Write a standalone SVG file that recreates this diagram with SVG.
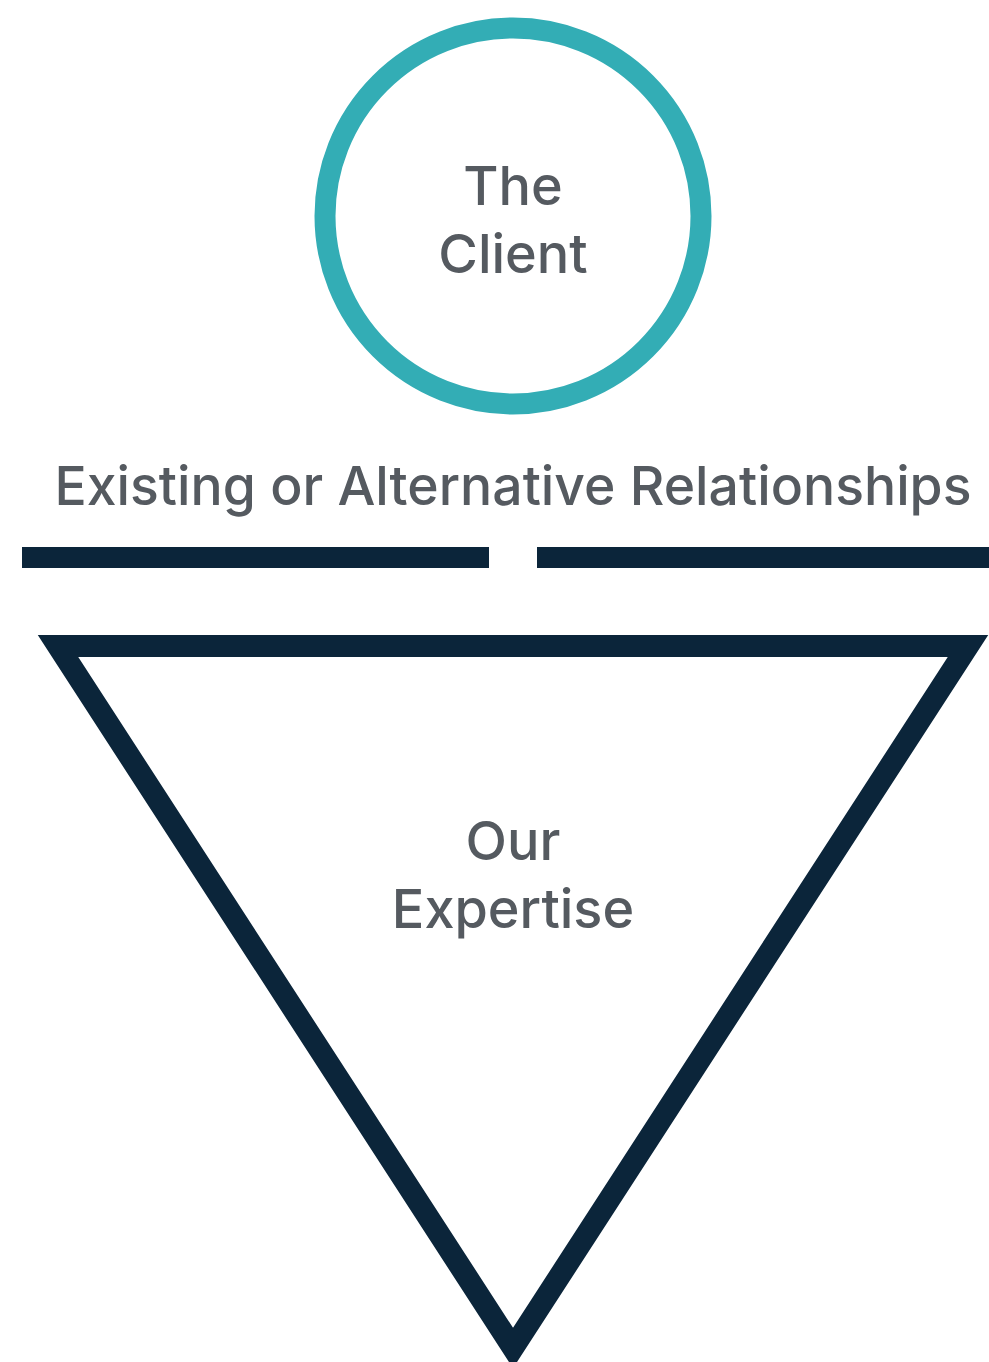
<svg xmlns="http://www.w3.org/2000/svg" width="989" height="1362" viewBox="0 0 989 1362">
<style>
.lbl{font-family:Inter,"Liberation Sans",sans-serif;font-weight:500;font-size:54px;fill:#555a60;text-anchor:middle}
.dark{fill:#0b253a}
</style>
<rect width="989" height="1362" fill="#ffffff"/>
<g id="client">
<circle cx="513" cy="216" r="188" fill="none" stroke="#33adb5" stroke-width="21"/>
<text class="lbl" x="513" y="205">The</text>
<text class="lbl" x="513" y="273">Client</text>
</g>
<g id="relationships">
<text class="lbl" x="513" y="505" textLength="917" lengthAdjust="spacingAndGlyphs">Existing or Alternative Relationships</text>
</g>
<g id="connectors">
<rect class="dark" x="22" y="547" width="467" height="21"/>
<rect class="dark" x="537" y="547" width="452" height="21"/>
</g>
<g id="expertise">
<polygon points="58,646 968,646 513,1348" fill="none" stroke="#0b253a" stroke-width="22" stroke-linejoin="miter"/>
<text class="lbl" x="513" y="860">Our</text>
<text class="lbl" x="513" y="928">Expertise</text>
</g>
</svg>
